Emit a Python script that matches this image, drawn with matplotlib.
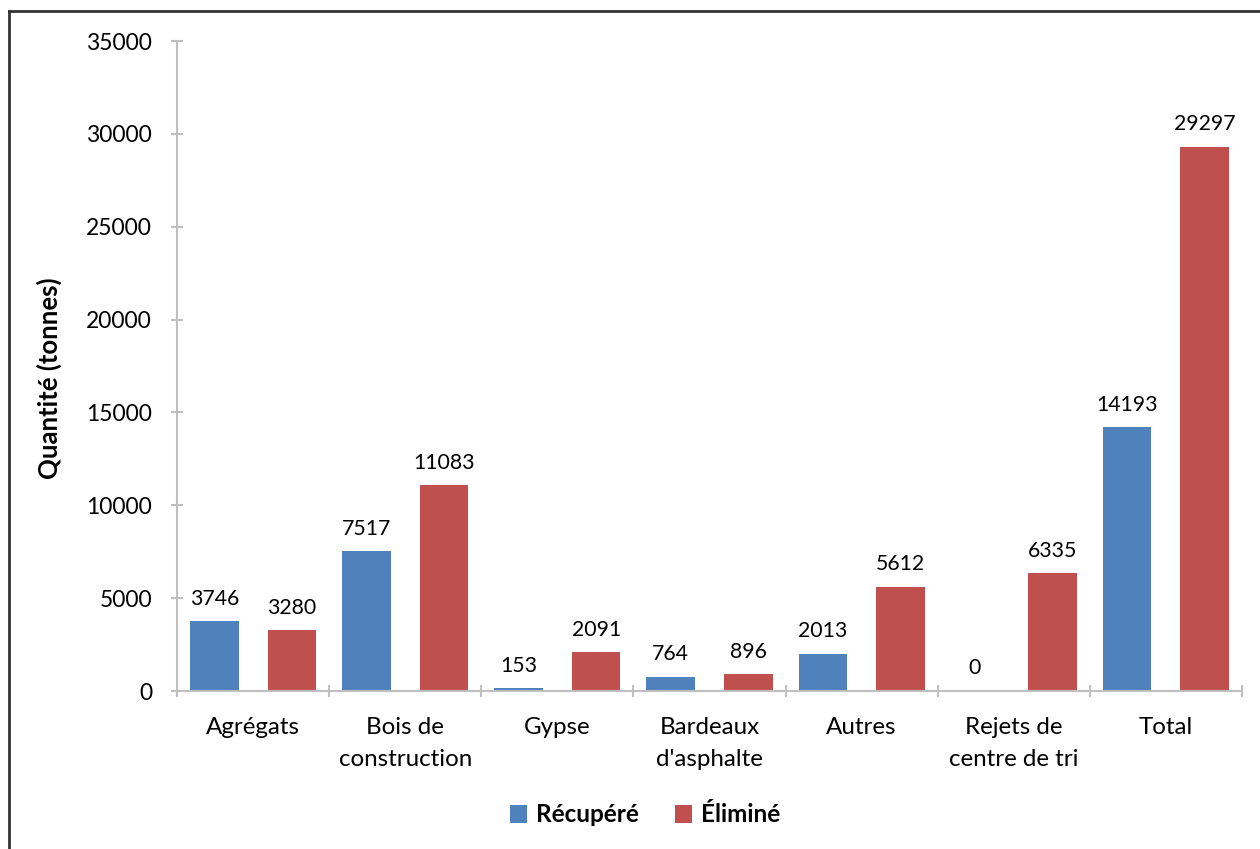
import matplotlib
matplotlib.use("Agg")
import matplotlib.pyplot as plt
import numpy as np
from matplotlib.lines import Line2D

categories = ["Agrégats", "Bois de\nconstruction", "Gypse", "Bardeaux\nd'asphalte",
              "Autres", "Rejets de\ncentre de tri", "Total"]
recupere = [3746, 7517, 153, 764, 2013, 0, 14193]
elimine = [3280, 11083, 2091, 896, 5612, 6335, 29297]
series_names = ["Récupéré", "Éliminé"]
yticks = [0, 5000, 10000, 15000, 20000, 25000, 30000, 35000]

plt.rcParams['font.family'] = ['Lato', 'DejaVu Sans']

fig = plt.figure(figsize=(12.6, 8.49), dpi=100)
ax = fig.add_axes([177/1260, 1-691/849, (1242-177)/1260, (691-41)/849])

x = np.arange(len(categories))
w = 0.32
off = 0.255
c1, c2 = "#4F81BD", "#C0504D"
b1 = ax.bar(x - off, recupere, w, color=c1, label=series_names[0])
b2 = ax.bar(x + off, elimine, w, color=c2, label=series_names[1])

for bars, vals in ((b1, recupere), (b2, elimine)):
    for b, v in zip(bars, vals):
        ax.annotate(f"{v}", (b.get_x() + b.get_width()/2, v), xytext=(0, 9),
                    textcoords="offset points", ha="center", va="bottom", fontsize=15.3)

ax.set_xlim(-0.5, len(categories) - 0.5)
ax.set_ylim(0, 35000)
ax.set_yticks(yticks)
ax.set_yticklabels([str(t) for t in yticks], fontsize=16.5)
ax.set_xticks(x)
ax.set_xticklabels(categories, fontsize=17.4, linespacing=1.62)
ax.set_xticks(np.arange(len(categories) + 1) - 0.5, minor=True)
ax.tick_params(axis="x", which="major", length=0, pad=19)
ax.tick_params(axis="x", which="minor", length=8, color="#BFBFBF", width=1.5, direction="inout")
ax.tick_params(axis="y", length=8, color="#BFBFBF", width=1.5, pad=14, direction="inout")

for s in ("top", "right"):
    ax.spines[s].set_visible(False)
for s in ("left", "bottom"):
    ax.spines[s].set_color("#BFBFBF")
    ax.spines[s].set_linewidth(1.5)

ax.set_ylabel("Quantité (tonnes)", fontsize=18.5, fontweight="bold")
ax.yaxis.set_label_coords((62-177)/(1242-177), 1-(378-41)/650)

leg = fig.legend(handles=[b1, b2], labels=series_names, loc="center",
                 bbox_to_anchor=(645/1260, 1-815/849), ncol=2, frameon=False,
                 prop={"size": 17.5, "weight": "bold"}, handlelength=0.7, handleheight=0.7,
                 columnspacing=1.5, handletextpad=0.35)

fig.add_artist(Line2D([9/1260, 9/1260], [0, 1-11/849], color="#333333", lw=2, transform=fig.transFigure))
fig.add_artist(Line2D([9/1260, 1], [1-11/849, 1-11/849], color="#333333", lw=2, transform=fig.transFigure))

fig.savefig("out.png", dpi=100)
